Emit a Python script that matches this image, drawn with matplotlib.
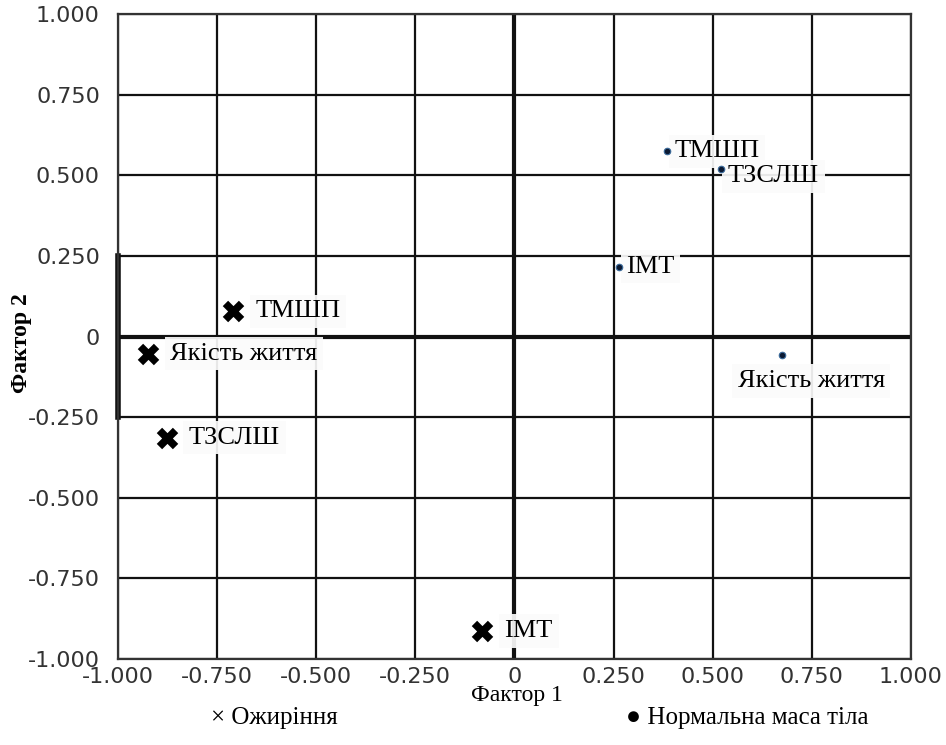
import matplotlib.pyplot as plt
from matplotlib.ticker import FixedLocator, FuncFormatter

# координати факторних навантажень
obese_names = ['ТМШП', 'Якість життя', 'ТЗСЛШ', 'ІМТ']
obese_f1 = [-0.710, -0.924, -0.877, -0.081]
obese_f2 = [0.078, -0.053, -0.314, -0.913]

normal_names = ['ТМШП', 'ТЗСЛШ', 'ІМТ', 'Якість життя']
normal_f1 = [0.385, 0.521, 0.264, 0.675]
normal_f2 = [0.575, 0.519, 0.217, -0.056]

ticks = [-1.0, -0.75, -0.5, -0.25, 0.0, 0.25, 0.5, 0.75, 1.0]

serif = ['Liberation Serif', 'DejaVu Serif']

fig = plt.figure(figsize=(9.46, 7.45), dpi=100)
ax = fig.add_axes([0.1247, 0.1154, 0.8383, 0.8658])

ax.set_xlim(-1, 1)
ax.set_ylim(-1, 1)
ax.xaxis.set_major_locator(FixedLocator(ticks))
ax.yaxis.set_major_locator(FixedLocator(ticks))
fmt = FuncFormatter(lambda v, p: '0' if abs(v) < 1e-9 else f'{v:.3f}')
ax.xaxis.set_major_formatter(fmt)
ax.yaxis.set_major_formatter(fmt)
ax.tick_params(length=0, labelsize=16, colors='#333333')
ax.tick_params(axis='x', pad=6)
ax.tick_params(axis='y', pad=13)
ax.grid(True, color='#111111', linewidth=1.6, zorder=1)
ax.set_axisbelow(True)
for s in ax.spines.values():
    s.set_color('#333333')
    s.set_linewidth(1.6)

# осі через нуль
ax.axhline(0, color='#111111', linewidth=3, zorder=2)
ax.axvline(0, color='#111111', linewidth=3, zorder=2)
# потовщений відрізок на лівому краю
ax.plot([-1, -1], [-0.25, 0.25], color='#111111', linewidth=4, zorder=2, clip_on=False)

box = dict(facecolor='#fbfbfb', edgecolor='none', alpha=0.92, pad=4)

# ожиріння
ax.scatter(obese_f1, obese_f2, marker='X', s=240, color='black', linewidths=0, zorder=5)
for n, x, y in zip(obese_names, obese_f1, obese_f2):
    ax.annotate(n, (x, y), xytext=(16, 0), textcoords='offset points', va='center', ha='left',
                fontsize=19, family=serif, bbox=box, zorder=4)

# нормальна маса тіла
ax.scatter(normal_f1, normal_f2, marker='o', s=22, color='#0b1a33', edgecolors='#3a6a9a',
           linewidths=0.8, zorder=5)
offsets = [(5, 0, 'left', 'center'), (5, -5, 'left', 'center'), (5, 0, 'left', 'center'),
           (21, -19, 'center', 'center')]
for n, x, y, (dx, dy, ha, va) in zip(normal_names, normal_f1, normal_f2, offsets):
    ax.annotate(n, (x, y), xytext=(dx, dy), textcoords='offset points', va=va, ha=ha,
                fontsize=19, family=serif, bbox=box, zorder=4)

ax.set_xlabel('Фактор 1', fontsize=17, family=serif)
ax.xaxis.set_label_coords(0.503, -0.041)
ax.set_ylabel('Фактор 2', fontsize=17, family=serif, fontweight='bold')
ax.yaxis.set_label_coords(-0.109, 0.49)

fig.text(0.29, 0.036, '× Ожиріння', fontsize=18, family=serif, ha='center', va='center')
fig.text(0.79, 0.036, '● Нормальна маса тіла', fontsize=18, family=serif, ha='center', va='center')

fig.savefig('out.png', dpi=100, facecolor='white')
